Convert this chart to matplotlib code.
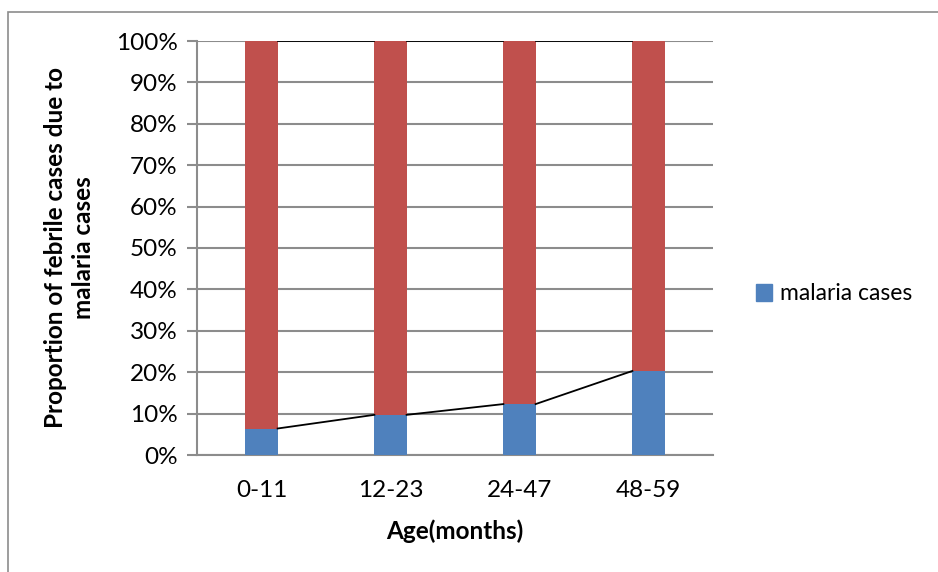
import matplotlib
matplotlib.use('Agg')
import matplotlib.pyplot as plt
import numpy as np
from matplotlib.patches import Rectangle, Patch

ages = ['0-11', '12-23', '24-47', '48-59']
malaria = [6.4, 9.7, 12.3, 20.3]
other = [100 - m for m in malaria]

blue = '#4F81BD'
red = '#C0504D'
grid_col = '#8C8C8C'

plt.rcParams['font.family'] = ['Lato', 'DejaVu Sans']
fs = 17.5

fig = plt.figure(figsize=(9.38, 5.72), dpi=100)
ax = fig.add_axes([197/938, 1 - 455/572, (713-197)/938, (455-41)/572])

x = np.arange(len(ages))
w = 0.25
ax.bar(x, malaria, w, color=blue, zorder=3)
ax.bar(x, other, w, bottom=malaria, color=red, zorder=3)

# series lines between bar edges
for i in range(len(ages) - 1):
    ax.plot([x[i] + w/2, x[i+1] - w/2], [malaria[i], malaria[i+1]], color='black', lw=1.3, zorder=4)
    ax.plot([x[i] + w/2, x[i+1] - w/2], [100, 100], color='black', lw=1.3, zorder=4)

ax.set_xlim(-0.5, len(ages) - 0.5)
ax.set_ylim(0, 100)
ax.set_yticks(np.arange(0, 101, 10))
ax.set_yticklabels([f'{v}%' for v in range(0, 101, 10)], fontsize=fs)
ax.set_xticks(x)
ax.set_xticklabels(ages, fontsize=fs)
ax.tick_params(axis='x', length=0, pad=18)
ax.tick_params(axis='y', length=7, width=1.5, color=grid_col, pad=7)
ax.yaxis.grid(True, color=grid_col, lw=1.5, zorder=0)
for s in ['top', 'right']:
    ax.spines[s].set_visible(False)
ax.spines['left'].set_color(grid_col)
ax.spines['left'].set_linewidth(1.5)
ax.spines['bottom'].set_color(grid_col)
ax.spines['bottom'].set_linewidth(1.5)

ax.set_xlabel('Age(months)', fontsize=fs, fontweight='bold', labelpad=13)
ax.set_ylabel('Proportion of febrile cases due to\nmalaria cases', fontsize=fs,
              fontweight='bold', labelpad=15, linespacing=1.25)

ax.legend(handles=[Patch(color=blue, label='malaria cases')],
          loc='center left', bbox_to_anchor=(756/938, 1 - 294/572),
          bbox_transform=fig.transFigure, frameon=False, fontsize=16.5,
          borderaxespad=0, borderpad=0,
          handlelength=0.7, handleheight=0.7, handletextpad=0.35)

# outer chart border
fig.patches.append(Rectangle((8/938, -0.1), 1.2, 1 - 12/572 + 0.1, transform=fig.transFigure,
                             fill=False, edgecolor='#8C8C8C', lw=1.2))

fig.savefig('out.png', dpi=100)
